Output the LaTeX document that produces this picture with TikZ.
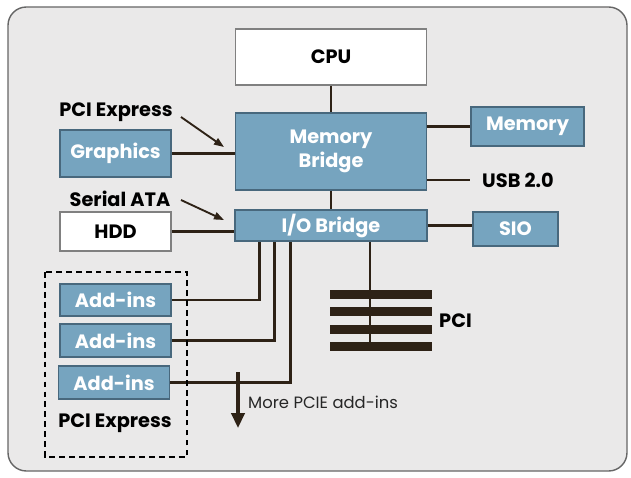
\documentclass[tikz,border=0pt]{standalone}
\usepackage{fontspec}
\setmainfont{Poppins}
\usetikzlibrary{arrows.meta}
\definecolor{chipblue}{HTML}{76A4BF}
\definecolor{chipedge}{HTML}{48687D}
\definecolor{wirebrown}{HTML}{2E2216}
\definecolor{panelgray}{HTML}{EAE9E9}
\begin{document}
\begin{tikzpicture}[x=0.03cm,y=-0.03cm]
        \tikzstyle{blk}=[draw=chipedge, fill=chipblue, line width=1.3pt, text=white, inner sep=0pt, font=\bfseries\fontsize{16.5}{20}\selectfont]
        \tikzstyle{wht}=[blk, draw=gray, fill=white, text=black]
        \tikzstyle{lbl}=[inner sep=0pt, font=\bfseries\fontsize{16.5}{20}\selectfont]
        \tikzstyle{wire}=[draw=wirebrown, line width=2.2pt]
        \tikzstyle{bar}=[fill=wirebrown, inner sep=0pt, minimum width=3.06cm, minimum height=0.27cm]

        \useasboundingbox (0,0) rectangle (631,478);
        \draw[gray!80!black, line width=1.2pt, fill=panelgray, rounded corners=0.55cm] (8,7) rectangle (627,471);

        \node[wht, minimum width=5.73cm, minimum height=1.68cm] (cpu) at (331,57) {CPU};
        \node[blk, minimum width=5.73cm, minimum height=2.31cm, align=center] (mb) at (331,151.5) {Memory\\Bridge};
        \node[blk, minimum width=5.76cm, minimum height=0.93cm] (io) at (331,225.5) {I/O Bridge};
        \node[blk, minimum width=3.33cm, minimum height=1.41cm] (gfx) at (115.5,153.5) {Graphics};
        \node[blk, minimum width=3.39cm, minimum height=1.17cm] (mem) at (527.5,126.5) {Memory};
        \node[wht, minimum width=3.33cm, minimum height=1.17cm] (hdd) at (115.5,231.5) {HDD};
        \node[blk, minimum width=2.55cm, minimum height=1.02cm] (sio) at (515.5,229) {SIO};
        \node[blk, minimum width=3.33cm, minimum height=0.96cm] (add1) at (115.5,300) {Add-ins};
        \node[blk, minimum width=3.33cm, minimum height=0.99cm] (add2) at (115.5,340.5) {Add-ins};
        \node[blk, minimum width=3.33cm, minimum height=0.99cm] (add3) at (114,382.5) {Add-ins};

        \node[lbl] (pcie) at (116,112) {PCI Express};
        \node[lbl] (sata) at (120,199) {Serial ATA};
        \node[lbl, anchor=west] (usb) at (482,180) {USB 2.0};
        \node[lbl, anchor=west] (pci) at (439,321) {PCI};
        \node[lbl] (pciebox) at (115,423) {PCI Express};
        \node[anchor=west, inner sep=0pt, text=black!85, font=\fontsize{14}{17}\selectfont] (more) at (248,402) {More PCIE add-ins};

        \coordinate (usbend) at (470,180);
        \coordinate (moretop) at (238,372);
        \coordinate (moreend) at (238,428);
        \coordinate (tap) at (370,346.5);

        % PCI bus
        \node[bar] (bar1) at (381,294.5) {};
        \node[bar] (bar2) at (381,311.5) {};
        \node[bar] (bar3) at (381,329) {};
        \node[bar] (bar4) at (381,346.5) {};

        \draw[wire] (cpu) -- (mb);
        \draw[wire] (mb) -- (io);
        \draw[wire] (gfx) -- (mb.west |- gfx.east);
        \draw[wire] (mem.west) -- (mb.east |- mem.west);
        \draw[wire] (mb.east |- usbend) -- (usbend);
        \draw[wire] (hdd) -- (io.west |- hdd.east);
        \draw[wire] (io.east) -- (sio.west |- io.east);
        \draw[wire] (io.south -| tap) -- (tap);
        \draw[wire] (add1.east) -| ([xshift=0.75cm]io.south west);
        \draw[wire] (add2.east) -| ([xshift=1.2cm]io.south west);
        \draw[wire] (add3.east) -| ([xshift=1.68cm]io.south west);
        \draw[wire, line width=2.6pt, -{Triangle[length=0.45cm, width=0.4cm]}] (moretop) -- (moreend);

        \draw[wirebrown, line width=1.6pt, -{Triangle[length=0.3cm, width=0.22cm]}] (181,117) -- (224,147);
        \draw[wirebrown, line width=1.6pt, -{Triangle[length=0.3cm, width=0.22cm]}] (181,200) -- (224,220);

        \draw[black, line width=2pt, dash pattern=on 5pt off 3.5pt] (45,272) rectangle (187,457);
    \end{tikzpicture}
\end{document}
